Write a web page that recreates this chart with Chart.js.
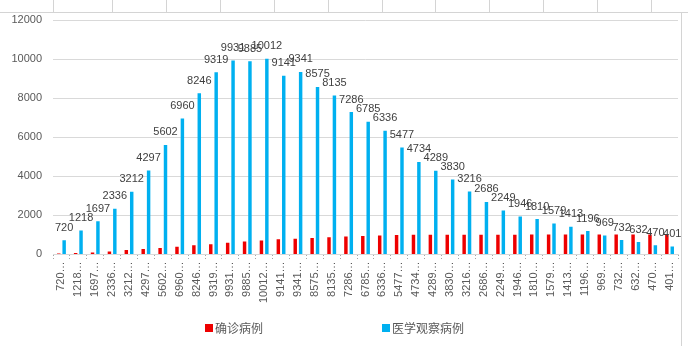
<!DOCTYPE html>
<html>
<head>
<meta charset="utf-8">
<script src="https://cdn.jsdelivr.net/npm/chart.js@4/dist/chart.umd.min.js"></script>
<style>
  html, body { margin: 0; padding: 0; background: #fff; }
  #wrap { position: relative; width: 688px; height: 346px; }
  canvas { display: block; }
</style>
</head>
<body>
<div id="wrap"><canvas id="c" width="688" height="346"></canvas></div>
<script>
// Category labels (shortened with an ellipsis, as shown on the axis)
const categories = [
  "720…", "1218…", "1697…", "2336…", "3212…", "4297…", "5602…", "6960…", "8246…", "9319…",
  "9931…", "9885…", "10012…", "9141…", "9341…", "8575…", "8135…", "7286…", "6785…", "6336…",
  "5477…", "4734…", "4289…", "3830…", "3216…", "2686…", "2249…", "1946…", "1810…", "1579…",
  "1413…", "1196…", "969…", "732…", "632…", "470…", "401…"
];

// 确诊病例
const confirmed = [
  43, 69, 100, 143, 221, 277, 332, 389, 463, 521,
  593, 661, 711, 772, 803, 838, 879, 912, 946, 968,
  988, 1001, 1004, 1006, 1007, 1008, 1010, 1011, 1013, 1016,
  1016, 1016, 1016, 1016, 1017, 1017, 1017
];

// 医学观察病例
const observed = [
  720, 1218, 1697, 2336, 3212, 4297, 5602, 6960, 8246, 9319,
  9931, 9885, 10012, 9141, 9341, 8575, 8135, 7286, 6785, 6336,
  5477, 4734, 4289, 3830, 3216, 2686, 2249, 1946, 1810, 1579,
  1413, 1196, 969, 732, 632, 470, 401
];

const seriesNames = ["确诊病例", "医学观察病例"];
const seriesColors = ["#ee0000", "#00b0f0"];
const yMin = 0, yMax = 12000, yStep = 2000;

const NUM_FONT = '"Liberation Sans", Arial, sans-serif';
const CJK_FONT = '"Noto Sans CJK SC", "Noto Sans", sans-serif';

// Worksheet cell lines around the embedded chart
const sheetLines = {
  id: 'sheetLines',
  beforeDraw(chart) {
    const ctx = chart.ctx;
    ctx.save();
    ctx.fillStyle = '#ffffff';
    ctx.fillRect(0, 0, chart.width, chart.height);
    ctx.strokeStyle = '#d4d4d4';
    ctx.lineWidth = 1;
    ctx.beginPath();
    ctx.moveTo(0, 12.5); ctx.lineTo(chart.width, 12.5);
    [53, 112, 166, 220, 274, 328, 382, 435, 489, 543, 597, 651].forEach(x => {
      ctx.moveTo(x + 0.5, 0); ctx.lineTo(x + 0.5, 12);
    });
    ctx.moveTo(681.5, 12); ctx.lineTo(681.5, chart.height);
    ctx.stroke();
    ctx.restore();
  }
};

// Value labels above the observation bars
const valueLabels = {
  id: 'valueLabels',
  afterDatasetsDraw(chart) {
    const meta = chart.getDatasetMeta(1);
    const ctx = chart.ctx;
    ctx.save();
    ctx.font = '11px ' + NUM_FONT;
    ctx.fillStyle = '#404040';
    ctx.textAlign = 'center';
    ctx.textBaseline = 'alphabetic';
    meta.data.forEach((bar, i) => {
      ctx.fillText(String(observed[i]), bar.x, bar.y - 9.5);
    });
    ctx.restore();
  }
};

// Widely spaced legend along the bottom edge
const wideLegend = {
  id: 'wideLegend',
  afterDraw(chart) {
    const ctx = chart.ctx;
    const itemX = [205, 382];
    const cy = 328;
    ctx.save();
    ctx.font = '12px ' + CJK_FONT;
    ctx.textBaseline = 'middle';
    ctx.textAlign = 'left';
    chart.data.datasets.forEach((ds, i) => {
      ctx.fillStyle = ds.backgroundColor;
      ctx.fillRect(itemX[i], cy - 4, 8, 8);
      ctx.fillStyle = '#595959';
      ctx.fillText(ds.label, itemX[i] + 10, cy);
    });
    ctx.restore();
  }
};

new Chart(document.getElementById('c'), {
  type: 'bar',
  data: {
    labels: categories,
    datasets: [
      { label: seriesNames[0], data: confirmed, backgroundColor: seriesColors[0],
        categoryPercentage: 0.64, barPercentage: 0.64 },
      { label: seriesNames[1], data: observed, backgroundColor: seriesColors[1],
        categoryPercentage: 0.64, barPercentage: 0.64 }
    ]
  },
  options: {
    responsive: false,
    animation: false,
    layout: { padding: { left: 11, right: 10, top: 20, bottom: 41 } },
    plugins: {
      legend: { display: false },
      tooltip: { enabled: false }
    },
    scales: {
      x: {
        grid: {
          display: true, drawOnChartArea: false, drawTicks: true,
          tickLength: 5, offset: true, color: '#a6a6a6', tickBorderDash: [1, 2]
        },
        border: { display: true, color: '#d9d9d9' },
        ticks: {
          color: '#595959', font: { family: NUM_FONT, size: 11 },
          minRotation: 90, maxRotation: 90, autoSkip: false, padding: 2
        }
      },
      y: {
        min: yMin, max: yMax,
        afterFit(scale) { scale.width = 42; },
        grid: { color: '#d9d9d9', drawTicks: false },
        border: { display: false },
        ticks: {
          stepSize: yStep, color: '#595959', padding: 11,
          font: { family: NUM_FONT, size: 11 },
          callback: v => String(v)
        }
      }
    }
  },
  plugins: [sheetLines, valueLabels, wideLegend]
});
</script>
</body>
</html>
